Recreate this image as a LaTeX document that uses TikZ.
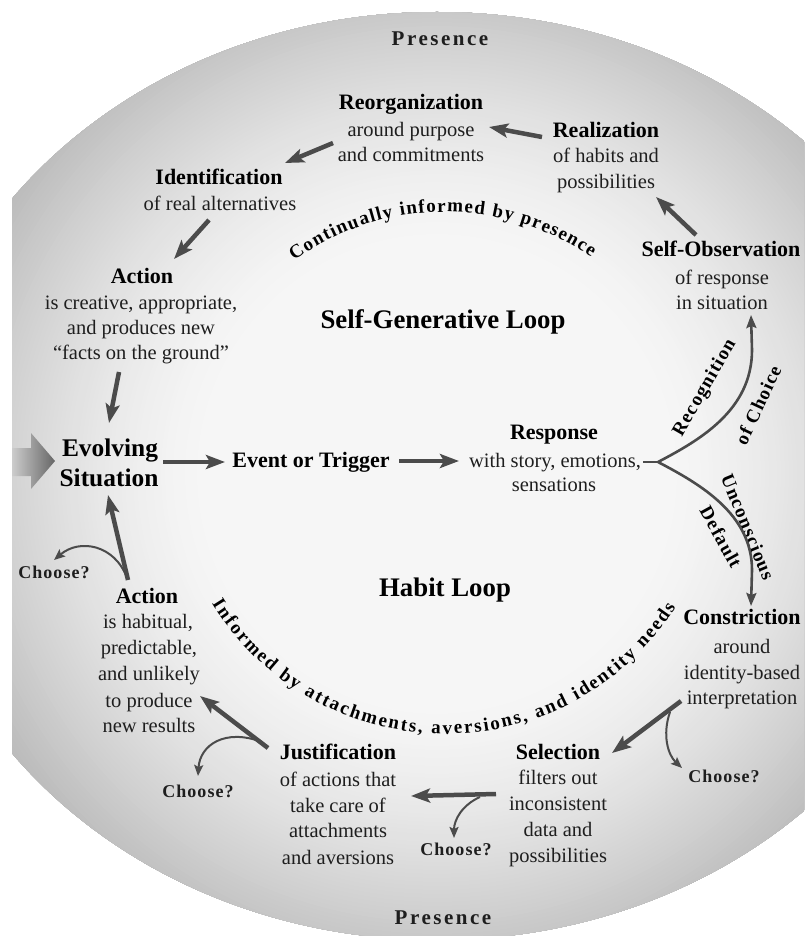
\documentclass[tikz,border=0pt]{standalone}
\usepackage{fontspec}
\setmainfont{Liberation Serif}
\newfontfamily\spacedfont[LetterSpace=12]{Liberation Serif}
\newfontfamily\lblfont[LetterSpace=6]{Liberation Serif}
\usetikzlibrary{arrows.meta,decorations.text}
\definecolor{arrowgray}{HTML}{4B4B4B}
\definecolor{txtcol}{HTML}{1E1E1E}
\definecolor{bigL}{gray}{0.80}
\definecolor{bigR}{gray}{0.40}
\begin{document}
\begin{tikzpicture}[x=1pt,y=-1pt,
 every node/.style={inner sep=0pt, text=txtcol},
 hd/.style={font=\bfseries\fontsize{22}{26}\selectfont, text=black, text height=15pt, text depth=4pt},
 tx/.style={font=\fontsize{20.5}{25}\selectfont, text height=14pt, text depth=4pt},
 bigtitle/.style={font=\bfseries\fontsize{25.4}{30}\selectfont, text=black, text height=17pt, text depth=5pt},
 looptitle/.style={font=\bfseries\fontsize{26.8}{32}\selectfont, text=black, text height=18pt, text depth=6pt},
 pres/.style={font=\spacedfont\bfseries\fontsize{21}{24}\selectfont, text height=14pt, text depth=4pt},
 choosetxt/.style={font=\lblfont\bfseries\fontsize{18}{22}\selectfont, text height=13pt, text depth=4pt},
 branchlbl/.style={font=\lblfont\bfseries\fontsize{19}{22}\selectfont, text=black},
 mainarr/.style={draw=arrowgray, line width=4.5pt, -{Stealth[length=19pt,width=14pt,inset=4pt]}},
 forkline/.style={draw=arrowgray, line width=2.6pt},
 forkarr/.style={draw=arrowgray, line width=2.6pt, -{Stealth[length=13pt,width=10pt,inset=2pt]}},
 choosearr/.style={draw=arrowgray, line width=2pt, -{Stealth[length=11pt,width=9pt,inset=2pt]}},
 arctext/.style={decorate, decoration={text along path, text={|\bfseries\fontsize{19}{22}\selectfont|#1}, text align={fit to path}}},
]
\useasboundingbox (0,0) rectangle (804,936);
\fill[white] (0,0) rectangle (804,936);
% background: concentric discs give the radial gradient
\begin{scope}
 \clip (12,0) rectangle (804,936);
 \clip (437,476) ellipse [x radius=530, y radius=464];
 \foreach \r in {544,540,...,4} {
   \pgfmathsetmacro\dk{3.5+27*(max(\r-230,0.01)/310)^1.5}
   \fill[black!\dk] (437,474) circle [radius=\r];
 }
\end{scope}
% input arrow
\shade[left color=bigL, right color=bigR] (12,448) -- (31,448) -- (31,433) -- (55,461) -- (31,489) -- (31,476) -- (12,476) -- cycle;

% Presence
\node[pres] (prestop) at (440,41) {Presence};
\node[pres] (presbot) at (443,919) {Presence};

% upper loop
\node[hd] (reorg) at (411,104) {Reorganization};
\node[tx] (reorg1) at (411,132) {around purpose};
\node[tx] (reorg2) at (411,156) {and commitments};

\node[hd] (realiz) at (606,132) {Realization};
\node[tx] (realiz1) at (606,158) {of habits and};
\node[tx] (realiz2) at (606,184) {possibilities};

\node[hd] (ident) at (219,179) {Identification};
\node[tx] (ident1) at (220,205) {of real alternatives};

\node[hd] (selfobs) at (721,251) {Self-Observation};
\node[tx] (selfobs1) at (722,279) {of response};
\node[tx] (selfobs2) at (722,304) {in situation};

\node[hd] (actA) at (142,278) {Action};
\node[tx] (actA1) at (141,304) {is creative, appropriate,};
\node[tx] (actA2) at (141,329) {and produces new};
\node[tx] (actA3) at (141,354) {“facts on the ground”};

\node[looptitle] (sgl) at (443,322) {Self-Generative Loop};

% middle row
\node[bigtitle] (evolv) at (110,450) {Evolving};
\node[bigtitle] (evolv2) at (109,480) {Situation};
\node[hd] (event) at (311,462) {Event or Trigger};
\node[hd] (resp) at (554,434) {Response};
\node[tx] (resp1) at (555,462) {with story, emotions,};
\node[tx] (resp2) at (554,486) {sensations};

% habit loop
\node[looptitle] (hl) at (445,590) {Habit Loop};

\node[hd] (actB) at (147,598) {Action};
\node[tx] (actB1) at (148,623) {is habitual,};
\node[tx] (actB2) at (149,649) {predictable,};
\node[tx] (actB3) at (149,675) {and unlikely};
\node[tx] (actB4) at (149,702) {to produce};
\node[tx] (actB5) at (149,727) {new results};

\node[hd] (constr) at (742,619) {Constriction};
\node[tx] (constr1) at (742,648) {around};
\node[tx] (constr2) at (742,674) {identity-based};
\node[tx] (constr3) at (742,699) {interpretation};

\node[hd] (sel) at (558,754) {Selection};
\node[tx] (sel1) at (558,779) {filters out};
\node[tx] (sel2) at (558,805) {inconsistent};
\node[tx] (sel3) at (558,831) {data and};
\node[tx] (sel4) at (558,857) {possibilities};

\node[hd] (just) at (338,754) {Justification};
\node[tx] (just1) at (338,781) {of actions that};
\node[tx] (just2) at (338,807) {take care of};
\node[tx] (just3) at (338,832) {attachments};
\node[tx] (just4) at (338,859) {and aversions};

\node[choosetxt] (ch1) at (54,574) {Choose?};
\node[choosetxt] (ch2) at (198,793) {Choose?};
\node[choosetxt] (ch3) at (456,851) {Choose?};
\node[choosetxt] (ch4) at (724,778) {Choose?};

% branch labels
\node[branchlbl, rotate=60] (recog) at (705,388) {Recognition};
\node[branchlbl, rotate=65] (ofch) at (758,405) {of Choice};
\node[branchlbl, rotate=-67.6] (uncons) at (748,527) {Unconscious};
\node[branchlbl, rotate=-61] (deflt) at (721,537) {Default};

% curved texts
\path[arctext={Continually informed by presence}]
 (445,470) ++(-125.8:258) arc[start angle=-125.8, end angle=-55.5, radius=258];
\path[arctext={Informed by attachments, aversions, and identity needs}]
 (445,461) ++(148.6:273) arc[start angle=148.6, end angle=32.3, radius=273];

% arrow end points
\coordinate (a1s) at (542,137); \coordinate (a1e) at (489,127);
\coordinate (a2s) at (333,143); \coordinate (a2e) at (285,163);
\coordinate (a3s) at (209,220); \coordinate (a3e) at (174,259);
\coordinate (a4s) at (119,372); \coordinate (a4e) at (109,423);
\coordinate (a5s) at (163,462); \coordinate (a5e) at (225,462);
\coordinate (a6s) at (399,461); \coordinate (a6e) at (459,461);
\coordinate (a7s) at (696,235); \coordinate (a7e) at (656,197);
\coordinate (a8s) at (681,701); \coordinate (a8e) at (612,753);
\coordinate (a9s) at (496,794); \coordinate (a9e) at (411,796);
\coordinate (a10s) at (268,748); \coordinate (a10e) at (200,696);
\coordinate (a11s) at (128,580); \coordinate (a11e) at (108,495);

\draw[mainarr] (a1s) -- (a1e);
\draw[mainarr] (a2s) -- (a2e);
\draw[mainarr] (a3s) -- (a3e);
\draw[mainarr] (a4s) -- (a4e);
\draw[mainarr] (a5s) -- (a5e);
\draw[mainarr] (a6s) -- (a6e);
\draw[mainarr] (a7s) -- (a7e);
\draw[mainarr] (a8s) -- (a8e);
\draw[mainarr] (a9s) -- (a9e);
\draw[mainarr] (a10s) -- (a10e);
\draw[mainarr] (a11s) -- (a11e);

% fork
\coordinate (forkS) at (643,462); \coordinate (forkJ) at (658,462);
\coordinate (forkUp) at (751,315); \coordinate (forkDn) at (751,606);
\draw[forkline] (forkS) -- (forkJ);
\draw[forkarr] (forkJ) .. controls (700,440) and (752,410) .. (752,350) -- (forkUp);
\draw[forkarr] (forkJ) .. controls (700,484) and (752,514) .. (752,570) -- (forkDn);

% choose branches
\coordinate (c1s) at (127,578); \coordinate (c1e) at (54,560);
\coordinate (c2s) at (262,742); \coordinate (c2e) at (198,776);
\coordinate (c3s) at (480,797); \coordinate (c3e) at (454,838);
\coordinate (c4s) at (670,712); \coordinate (c4e) at (682,768);
\draw[choosearr] (c1s) .. controls (115,545) and (80,538) .. (c1e);
\draw[choosearr] (c2s) .. controls (225,728) and (200,745) .. (c2e);
\draw[choosearr] (c3s) .. controls (462,805) and (454,820) .. (c3e);
\draw[choosearr] (c4s) .. controls (662,735) and (668,755) .. (c4e);
\end{tikzpicture}
\end{document}
